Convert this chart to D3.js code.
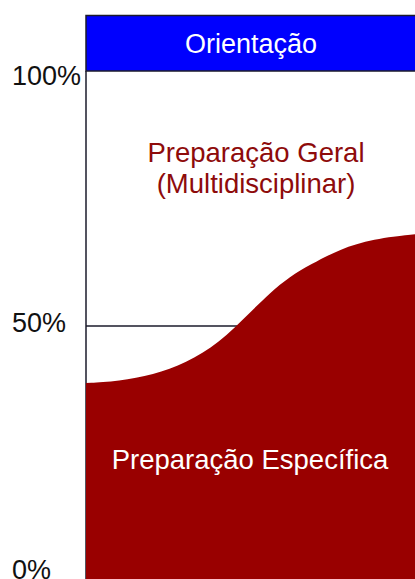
<!DOCTYPE html>
<html>
<head>
<meta charset="utf-8">
<script src="https://cdn.jsdelivr.net/npm/d3@7"></script>
<style>
  body { margin: 0; background: #fff; }
  text { font-family: "Liberation Sans", Arial, sans-serif; }
</style>
</head>
<body>
<div id="chart"></div>
<script>
// The data
var xPos = [0, 10, 20.4, 30.4, 40.4, 49.8, 55.9, 62.0, 68.1, 77.2, 87.2, 100];
var especifica = [38.8, 39.2, 40.4, 42.7, 46.6, 52.6, 56.5, 59.7, 62.0, 65.1, 67.1, 68.0];
var yTicks = [0, 50, 100];
var yTickLabels = ['0%', '50%', '100%'];
var headerLabel = 'Orientação';
var topLabel = ['Preparação Geral', '(Multidisciplinar)'];
var bottomLabel = 'Preparação Específica';

var width = 415, height = 579;

var svg = d3.select('#chart').append('svg')
    .attr('width', width)
    .attr('height', height);

var x = d3.scaleLinear().domain([0, 100]).range([86, 415]);
var y = d3.scaleLinear().domain([0, 100]).range([581, 71]);
// tick labels sit a little apart from the drawn lines
var yLabel = d3.scaleLinear().domain([0, 100]).range([569, 75]);

// axis line and 50% guide
svg.append('line')
    .attr('x1', x(0)).attr('x2', x(0))
    .attr('y1', y(100)).attr('y2', y(0))
    .style('stroke', '#1b1b2b')
    .style('stroke-width', 1.5);

svg.append('line')
    .attr('x1', x(0)).attr('x2', x(100))
    .attr('y1', y(50)).attr('y2', y(50))
    .style('stroke', '#1b1b2b')
    .style('stroke-width', 1.5);

// area
var points = xPos.map(function(d, i) { return [d, especifica[i]]; });
var area = d3.area()
    .x(function(d) { return x(d[0]); })
    .y0(y(0))
    .y1(function(d) { return y(d[1]); })
    .curve(d3.curveBasis);

svg.append('path')
    .datum(points)
    .attr('d', area)
    .style('fill', '#990000');

// header box
svg.append('rect')
    .attr('x', x(0))
    .attr('y', 15.5)
    .attr('width', x(100) - x(0) + 2)
    .attr('height', y(100) - 15.5)
    .style('fill', '#0000fe')
    .style('stroke', '#1b1b2b')
    .style('stroke-width', 1.5);

svg.append('text')
    .attr('x', 251)
    .attr('y', 53)
    .attr('text-anchor', 'middle')
    .style('fill', 'white')
    .style('font-size', '27px')
    .text(headerLabel);

// tick labels
svg.selectAll('.tick-label')
    .data(yTicks)
    .enter()
  .append('text')
    .attr('class', 'tick-label')
    .attr('x', 12)
    .attr('y', function(d) { return yLabel(d); })
    .attr('dy', '0.36em')
    .style('fill', '#111')
    .style('font-size', '27px')
    .text(function(d, i) { return yTickLabels[i]; });

// region labels
svg.selectAll('.top-label')
    .data(topLabel)
    .enter()
  .append('text')
    .attr('class', 'top-label')
    .attr('x', 256)
    .attr('y', function(d, i) { return 162 + i * 31; })
    .attr('text-anchor', 'middle')
    .style('fill', '#8e0b0b')
    .style('font-size', '27.5px')
    .text(function(d) { return d; });

svg.append('text')
    .attr('x', 250)
    .attr('y', 469)
    .attr('text-anchor', 'middle')
    .style('fill', 'white')
    .style('font-size', '27.5px')
    .text(bottomLabel);
</script>
</body>
</html>
